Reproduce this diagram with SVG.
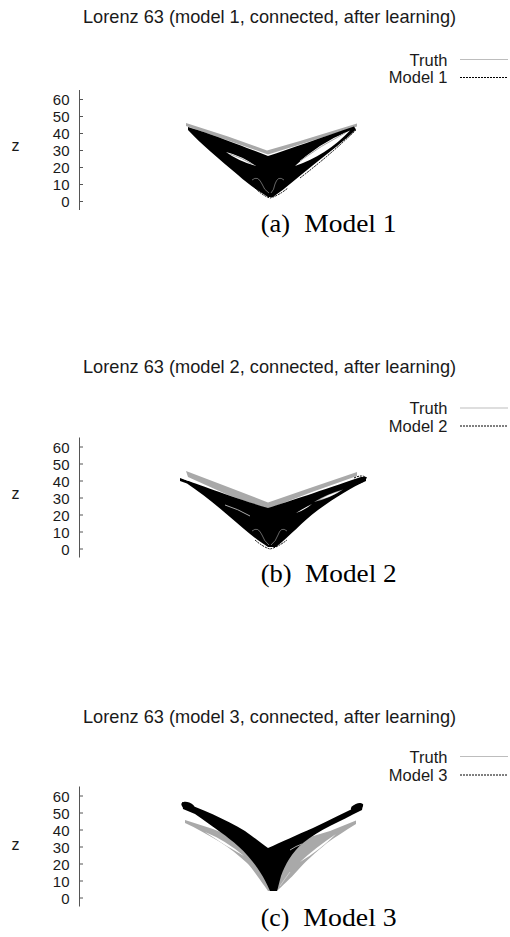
<svg xmlns="http://www.w3.org/2000/svg" width="510" height="937" viewBox="0 0 510 937">
<style>
.title{font-family:"Liberation Sans",Arial,sans-serif;font-size:18.2px;fill:#1a1a1a}
.leg{font-family:"Liberation Sans",Arial,sans-serif;font-size:16.5px;fill:#1a1a1a;text-anchor:end}
.tick{font-family:"Liberation Sans",Arial,sans-serif;font-size:15px;fill:#1a1a1a;text-anchor:end}
.zlab{font-family:"Liberation Sans",Arial,sans-serif;font-size:16px;fill:#1a1a1a}
.cap{font-family:"Liberation Serif","Times New Roman",serif;font-size:26px;fill:#000}
.axis{stroke:#555;stroke-width:1;fill:none}
.tl{stroke:#bdbdbd;stroke-width:1.2;fill:none}
.ml{stroke:#000;stroke-width:1;stroke-dasharray:2 1;fill:none}
.gray{fill:#a9a9a9}
.blk{fill:#000}
.wh{fill:#fff}
.wl{stroke:#fff;stroke-width:0.5;fill:none;opacity:0.8}
.gl{stroke:#a9a9a9;stroke-width:1;fill:none}
</style>
<defs>
<g id="ticks">
<line class="axis" x1="79.5" y1="0" x2="79.5" y2="120"/>
<path class="axis" d="M79.5,9.5h3.5M79.5,26.5h3.5M79.5,43.5h3.5M79.5,60.5h3.5M79.5,77.5h3.5M79.5,94.5h3.5M79.5,111.5h3.5"/>
<text class="tick" x="69.5" y="15">60</text>
<text class="tick" x="69.5" y="32">50</text>
<text class="tick" x="69.5" y="49">40</text>
<text class="tick" x="69.5" y="66">30</text>
<text class="tick" x="69.5" y="83">20</text>
<text class="tick" x="69.5" y="100">10</text>
<text class="tick" x="69.5" y="117">0</text>
</g>
</defs>

<!-- Panel 1 -->
<g id="panel1">
<text class="title" x="83" y="22.7">Lorenz 63 (model 1, connected, after learning)</text>
<text class="leg" x="447.5" y="65.5">Truth</text>
<text class="leg" x="447.5" y="83">Model 1</text>
<line class="tl" x1="460" y1="59.5" x2="508" y2="59.5"/>
<line class="ml" x1="460" y1="77.5" x2="508" y2="77.5"/>
<use href="#ticks" transform="translate(0,90)"/>
<text class="zlab" x="11.5" y="151">z</text>
<g id="plot1">
<path class="gray" d="M186,123 L228,136.5 L267,150.5 L300,141 L357,123.5 L357,126.5 L300,144.5 L268,154.5 L228,140.5 L186,126 Z"/>
<path class="blk" d="M188,127 C205,132 240,145 268,156 C290,149 320,138 354,126.5 L356,129.5 C345,140 330,152 312,166 C298,177 286,188 273,197 L268,197 C258,191 248,184 238,175 C220,160 200,143 188,130 Z"/>
<path class="wh" d="M295,166 Q317,144 350,130.5 Q327,155 295,166 Z"/>
<path class="gl" d="M300,161 Q320,146 345,133" stroke-width="0.8"/>
<path class="wh" d="M226,152 Q242,156 256,166 Q238,161 226,152 Z"/>
<path class="gl" d="M230,154 Q242,158 252,164" stroke-width="0.8"/>
<path class="wl" d="M252,180 Q258,175 262,184 Q264,190 269,193 M284,180 Q278,175 275,184 Q274,190 271,193"/>
<path class="ml" d="M255,188 Q263,196 270,198 Q278,196 288,188 M300,178 Q330,155 356,130"/>
</g>
<text class="cap" x="260.7" y="231.7" textLength="29.3" lengthAdjust="spacingAndGlyphs">(a)</text>
<text class="cap" x="304.3" y="231.7" textLength="92.3" lengthAdjust="spacingAndGlyphs">Model 1</text>
</g>

<!-- Panel 2 -->
<g id="panel2">
<text class="title" x="83" y="372.7">Lorenz 63 (model 2, connected, after learning)</text>
<text class="leg" x="447.5" y="414">Truth</text>
<text class="leg" x="447.5" y="431.5">Model 2</text>
<line class="tl" x1="460" y1="408" x2="508" y2="408"/>
<line class="ml" x1="460" y1="426" x2="508" y2="426"/>
<use href="#ticks" transform="translate(0,437.5)"/>
<text class="zlab" x="11.5" y="499">z</text>
<g id="plot2">
<path class="gray" d="M186,471 L228,487 L268,502.5 L310,488 L357,472 L357,476 L312,492 L268,509 L228,495 L188,477 Z"/>
<path class="blk" d="M180,478 C195,483 225,495 268,508 C290,501 320,491 361,477 L366,477 L366,481 C352,487 336,497 318,510 C302,522 290,536 276,547 L268,547 C258,541 245,530 230,517 C215,504 200,492 187,483.5 L180,481 Z"/>
<path class="wh" d="M183.5,479.3 Q190,479 197.5,482 Q190,482.3 183.5,479.3 Z"/>
<path class="gray" d="M314,502 Q327,494 343,489.5 Q331,498 314,502 Z"/>
<path class="wh" d="M320,499.5 Q330,494 340,491 Q331,497 320,499.5 Z"/>
<path class="wh" d="M296,513 Q304,508 312,504 Q305,510 296,513 Z"/>
<path class="gl" d="M225,505 Q238,509 250,516" stroke-width="0.8"/>
<path class="wl" d="M252,531 Q258,526 262,535 Q264,541 269,545 M287,531 Q281,526 278,535 Q276,541 271,545"/>
<path class="ml" d="M255,540 Q263,547 270,549 Q278,547 287,540 M354,478 Q362,474 367,478 Q362,484 353,484"/>
</g>
<text class="cap" x="260.7" y="581.7" textLength="31" lengthAdjust="spacingAndGlyphs">(b)</text>
<text class="cap" x="305" y="581.7" textLength="91.7" lengthAdjust="spacingAndGlyphs">Model 2</text>
</g>

<!-- Panel 3 -->
<g id="panel3">
<text class="title" x="83" y="722.7">Lorenz 63 (model 3, connected, after learning)</text>
<text class="leg" x="447.5" y="762.5">Truth</text>
<text class="leg" x="447.5" y="780.5">Model 3</text>
<line class="tl" x1="460" y1="756.5" x2="508" y2="756.5"/>
<line class="ml" x1="460" y1="775" x2="508" y2="775"/>
<use href="#ticks" transform="translate(0,786.5)"/>
<text class="zlab" x="11.5" y="850">z</text>
<g id="plot3">
<path class="gray" d="M185,820 L213,829 L240,840 L268,852 L300,840 L330,831 L356,820.5 L356,824 C345,831 335,837 327,843 C315,853 305,862 298,870 C290,879 282,886 277,891 L268,891 C264,885 260,880 258,877 C253,870 250,866 247,863 C238,855 230,848 220,842 C208,835 196,828 185,823 Z"/>
<path class="wh" d="M205,832 Q225,840 244,856 Q224,845 205,832 Z"/>
<path class="wh" d="M300,862 Q315,848 336,834 Q320,850 300,862 Z"/>
<path class="wl" d="M250,868 Q256,878 262,884 M290,872 Q284,880 280,886"/>
<path class="blk" d="M182,802 C200,808 225,819 245,831 C255,838 262,844 268,848 C280,843 298,834 313,828 C330,820 345,812 363,804 L362,810 C350,816 340,821 330,826 C320,831 312,836 303,843 C292,852 285,865 281,876 C279,883 278,888 277,891 L270,891 C267,884 264,878 260,872 C255,864 248,855 238,846 C228,837 215,828 195,814 L183,809 Z"/>
<ellipse class="blk" cx="188" cy="806" rx="7" ry="3.8" transform="rotate(20 188 806)"/>
<ellipse class="blk" cx="357" cy="807" rx="6.5" ry="3.3" transform="rotate(-22 357 807)"/>
<path class="gl" d="M290,850 Q296,846 302,844" stroke-width="0.8"/>
</g>
<text class="cap" x="260.7" y="926" textLength="28.6" lengthAdjust="spacingAndGlyphs">(c)</text>
<text class="cap" x="303.3" y="926" textLength="93.4" lengthAdjust="spacingAndGlyphs">Model 3</text>
</g>
</svg>
